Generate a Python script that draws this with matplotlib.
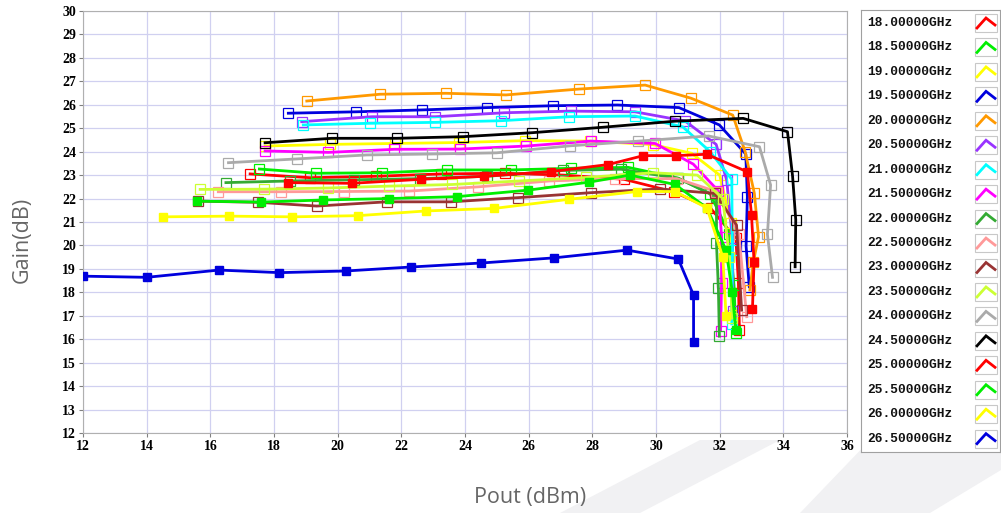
import matplotlib
matplotlib.use("Agg")
import matplotlib.pyplot as plt
from matplotlib.patches import Rectangle, Polygon

# frequency labels and colours
freqs = ["18.00000GHz", "18.50000GHz", "19.00000GHz", "19.50000GHz", "20.00000GHz",
         "20.50000GHz", "21.00000GHz", "21.50000GHz", "22.00000GHz", "22.50000GHz",
         "23.00000GHz", "23.50000GHz", "24.00000GHz", "24.50000GHz", "25.00000GHz",
         "25.50000GHz", "26.00000GHz", "26.50000GHz"]
colors = ["#ff0000", "#00ee00", "#ffff00", "#0000dd", "#ff9900", "#9933ff", "#00ffff",
          "#ff00ff", "#33aa33", "#ff9999", "#993333", "#ccff33", "#aaaaaa", "#000000",
          "#ff0000", "#00ee00", "#ffff00", "#0000dd"]
filled = [False] * 14 + [True] * 4

# Pout (dBm) / Gain (dB)
pout_180 = [17.25, 19.13, 21.2, 23.25, 25.26, 27.1, 29.0, 30.55, 31.72, 32.51, 32.59, 32.62]
gain_180 = [23.05, 22.89, 22.95, 23.05, 23.08, 23.0, 22.82, 22.29, 21.58, 20.3, 18.38, 16.39]
pout_185 = [17.54, 19.33, 21.4, 23.42, 25.44, 27.33, 29.13, 30.7, 31.7, 32.3, 32.45, 32.51]
gain_185 = [23.26, 23.08, 23.1, 23.22, 23.22, 23.29, 23.33, 22.87, 22.2, 20.5, 18.3, 16.25]
pout_190 = [17.72, 19.76, 21.8, 23.82, 25.89, 27.93, 29.9, 31.12, 32.0, 32.36, 32.38]
gain_190 = [24.24, 24.31, 24.35, 24.39, 24.47, 24.45, 24.3, 23.93, 23.0, 20.94, 17.03]
pout_195 = [18.45, 20.58, 22.64, 24.7, 26.77, 28.79, 30.72, 31.99, 32.82, 32.87, 32.83, 32.93]
gain_195 = [25.64, 25.7, 25.78, 25.88, 25.96, 25.99, 25.88, 25.14, 23.9, 22.08, 19.97, 18.24]
pout_200 = [19.03, 21.33, 23.4, 25.29, 27.58, 29.66, 31.1, 32.41, 32.8, 33.09, 33.22, 33.06, 32.95]
gain_200 = [26.16, 26.45, 26.49, 26.42, 26.67, 26.84, 26.28, 25.56, 24.0, 22.22, 20.37, 19.3, 18.1]
pout_205 = [18.87, 21.07, 23.06, 25.24, 27.33, 29.34, 30.91, 31.89, 32.22, 32.4, 32.42]
gain_205 = [25.28, 25.49, 25.49, 25.66, 25.73, 25.7, 25.31, 24.31, 22.79, 20.3, 17.2]
pout_210 = [18.92, 21.0, 23.06, 25.13, 27.28, 29.34, 30.84, 31.7, 32.38, 32.4, 32.38]
gain_210 = [25.14, 25.21, 25.25, 25.32, 25.49, 25.52, 25.06, 24.0, 22.82, 19.8, 16.65]
pout_215 = [17.72, 19.71, 21.78, 23.84, 25.92, 27.95, 29.97, 31.17, 31.96, 32.06, 32.06, 32.03]
gain_215 = [24.03, 23.97, 24.1, 24.11, 24.24, 24.45, 24.35, 23.47, 22.32, 20.37, 18.41, 16.37]
pout_220 = [16.49, 18.5, 20.5, 22.6, 24.7, 27.07, 28.9, 30.7, 31.9, 31.9, 31.96, 31.99]
gain_220 = [22.68, 22.75, 22.8, 22.85, 22.95, 23.2, 23.25, 22.86, 22.08, 20.09, 18.17, 16.13]
pout_225 = [16.25, 18.22, 20.2, 22.25, 24.42, 26.64, 28.7, 30.65, 31.9, 32.6, 32.85]
gain_225 = [22.29, 22.29, 22.3, 22.32, 22.5, 22.75, 22.85, 22.85, 22.3, 20.5, 16.96]
pout_230 = [15.62, 17.51, 19.34, 21.54, 23.55, 25.68, 27.95, 30.13, 31.85, 32.53, 32.69]
gain_230 = [21.89, 21.84, 21.68, 21.86, 21.86, 22.04, 22.25, 22.41, 22.22, 20.87, 17.24]
pout_235 = [15.68, 17.7, 19.7, 21.6, 23.6, 25.7, 27.8, 29.9, 31.3, 32.1, 32.3, 32.4]
gain_235 = [22.39, 22.4, 22.45, 22.53, 22.6, 22.75, 22.9, 23.1, 23.0, 22.0, 19.5, 16.9]
pout_240 = [16.57, 18.71, 20.91, 22.95, 24.99, 27.31, 29.45, 31.65, 33.25, 33.6, 33.5, 33.66]
gain_240 = [23.53, 23.69, 23.86, 23.9, 23.95, 24.25, 24.45, 24.67, 24.21, 22.58, 20.47, 18.64]
pout_245 = [17.72, 19.81, 21.85, 23.95, 26.12, 28.32, 30.6, 32.74, 34.13, 34.29, 34.39, 34.37]
gain_245 = [24.38, 24.57, 24.57, 24.64, 24.81, 25.04, 25.3, 25.42, 24.85, 22.96, 21.1, 19.09]
pout_250 = [18.45, 20.44, 22.61, 24.6, 26.7, 28.5, 29.6, 30.62, 31.59, 32.87, 33.0, 33.08, 33.03]
gain_250 = [22.68, 22.65, 22.82, 22.95, 23.15, 23.45, 23.83, 23.83, 23.89, 23.14, 21.3, 19.3, 17.29]
pout_255 = [15.57, 17.6, 19.55, 21.6, 23.74, 25.99, 27.9, 29.18, 30.6, 31.6, 32.2, 32.4, 32.5]
gain_255 = [21.89, 21.85, 21.94, 22.0, 22.08, 22.36, 22.7, 23.0, 22.6, 21.6, 19.8, 18.0, 16.4]
pout_260 = [14.52, 16.6, 18.58, 20.63, 22.77, 24.92, 27.28, 29.4, 30.6, 31.6, 32.1, 32.2]
gain_260 = [21.22, 21.25, 21.22, 21.27, 21.47, 21.58, 21.97, 22.3, 22.3, 21.6, 19.5, 17.0]
pout_265 = [12.0, 14.0, 16.27, 18.17, 20.25, 22.3, 24.5, 26.8, 29.09, 30.7, 31.18, 31.18]
gain_265 = [18.69, 18.64, 18.95, 18.84, 18.91, 19.08, 19.25, 19.47, 19.8, 19.42, 17.88, 15.89]

pouts = [pout_180, pout_185, pout_190, pout_195, pout_200, pout_205, pout_210, pout_215, pout_220,
         pout_225, pout_230, pout_235, pout_240, pout_245, pout_250, pout_255, pout_260, pout_265]
gains = [gain_180, gain_185, gain_190, gain_195, gain_200, gain_205, gain_210, gain_215, gain_220,
         gain_225, gain_230, gain_235, gain_240, gain_245, gain_250, gain_255, gain_260, gain_265]

W, H = 1001, 513
fig = plt.figure(figsize=(W / 100, H / 100), dpi=100, facecolor="white")

# faint watermark stripes at the bottom (pixel coords, y from top)
for pts in ([(700, 440), (780, 440), (640, 513), (560, 513)],
            [(870, 440), (1001, 440), (1001, 470), (930, 513), (800, 513)]):
    fig.patches.append(Polygon([(x / W, 1 - y / H) for x, y in pts], closed=True,
                               transform=fig.transFigure, facecolor="#f1f1f3",
                               edgecolor="none", zorder=-10))

ax = fig.add_axes([83 / W, 1 - 433 / H, (847 - 83) / W, (433 - 11) / H])
ax.set_facecolor("white")

for xs, ys, c, fl in zip(pouts, gains, colors, filled):
    if fl:
        ax.plot(xs, ys, color=c, lw=2.0, marker="s", ms=5.5, mfc=c, mec=c, zorder=3)
    else:
        ax.plot(xs, ys, color=c, lw=2.0, marker="s", ms=6.5, mfc="none", mec=c,
                mew=0.9, zorder=3)

ax.set_xlim(12, 36)
ax.set_ylim(12, 30)
ax.set_xticks(range(12, 37, 2))
ax.set_yticks(range(12, 31))
ax.grid(True, color="#d0d0f0", lw=0.9)
ax.set_axisbelow(True)
for s in ax.spines.values():
    s.set_color("#b0b0b0")
ax.tick_params(direction="out", length=3, width=0.8, color="#808080", pad=2)
for lab in ax.get_xticklabels() + ax.get_yticklabels():
    lab.set_family("Liberation Serif")
    lab.set_fontweight("bold")
    lab.set_fontsize(10)

fig.text(22 / W, 1 - 240 / H, "Gain(dB)", rotation=90, ha="center", va="center",
         fontsize=15.5, color="#666666", family="Open Sans")
fig.text(530 / W, 1 - 497 / H, "Pout (dBm)", ha="center", va="center",
         fontsize=15.5, color="#666666", family="Open Sans")

# legend panel
lx0, ly0, lx1, ly1 = 861, 10, 1000, 452
lg = fig.add_axes([lx0 / W, 1 - ly1 / H, (lx1 - lx0) / W, (ly1 - ly0) / H])
lg.set_xlim(0, lx1 - lx0)
lg.set_ylim(ly1 - ly0, 0)
lg.set_xticks([])
lg.set_yticks([])
for s in lg.spines.values():
    s.set_color("#a0a0a0")
    s.set_linewidth(0.8)
step = 24.45
for i, (lbl, c) in enumerate(zip(freqs, colors)):
    yc = 13 + i * step
    lg.text(6, yc, lbl, ha="left", va="center", fontsize=9.3,
            family="Liberation Mono", fontweight="bold", color="#111111")
    lg.add_patch(Rectangle((114, yc - 9), 22, 18, facecolor="white",
                           edgecolor="#c8c8c8", lw=0.8))
    lg.plot([116, 125, 134], [yc + 5, yc - 5, yc + 2], color=c, lw=2.0,
            solid_joinstyle="miter")

fig.savefig("out.png", dpi=100, facecolor=fig.get_facecolor())
